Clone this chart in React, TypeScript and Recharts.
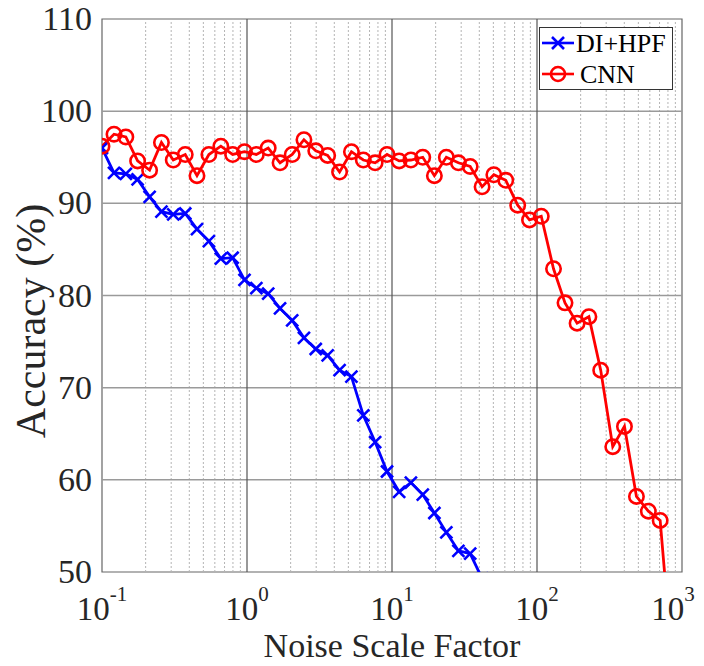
import React from 'react';
import {
  ComposedChart,
  Line,
  XAxis,
  YAxis,
  ReferenceLine,
  ReferenceArea,
  Legend,
} from 'recharts';

// Noise scale factors (log-spaced sweep)
const noiseScale = [
  0.1, 0.121, 0.146, 0.176, 0.213, 0.257, 0.31, 0.375, 0.452, 0.546,
  0.66, 0.796, 0.961, 1.16, 1.4, 1.69, 2.05, 2.47, 2.98, 3.6,
  4.35, 5.25, 6.34, 7.65, 9.24, 11.2, 13.5, 16.3, 19.6, 23.7,
  28.7, 34.6, 41.8, 50.4, 60.9, 73.6, 88.8, 107, 130, 156,
  189, 228, 275, 333, 401, 485, 586, 707, 854,
];

// Accuracy (%) of the DI+HPF detector
const diHpfAccuracy = [
  96.0, 93.3, 93.2, 92.6, 90.7, 89.1, 88.8, 88.9, 87.2, 85.9,
  84.0, 84.1, 81.7, 80.8, 80.2, 78.6, 77.3, 75.4, 74.2, 73.5,
  71.9, 71.2, 67.0, 64.1, 60.9, 58.7, 59.7, 58.4, 56.4, 54.3,
  52.3, 52.0, 49.3,
];

// Accuracy (%) of the CNN detector
const cnnAccuracy = [
  96.2, 97.5, 97.2, 94.6, 93.6, 96.6, 94.7, 95.3, 93.0, 95.3,
  96.2, 95.3, 95.6, 95.3, 96.0, 94.4, 95.3, 96.9, 95.7, 95.2,
  93.4, 95.6, 94.7, 94.4, 95.3, 94.6, 94.7, 95.0, 93.0, 95.0,
  94.4, 94.0, 91.8, 93.1, 92.5, 89.8, 88.2, 88.6, 82.9, 79.2,
  77.0, 77.7, 71.9, 63.6, 65.8, 58.2, 56.6, 55.6, 40.3,
];

const xTicks = [0.1, 1, 10, 100, 1000];
const xTickExponents = ['-1', '0', '1', '2', '3'];
const yTicks = [50, 60, 70, 80, 90, 100, 110];

const data = noiseScale.map((x, i) => ({
  x,
  diHpf: i < diHpfAccuracy.length ? diHpfAccuracy[i] : null,
  cnn: i < cnnAccuracy.length ? cnnAccuracy[i] : null,
}));

// minor log grid positions (2..9 within each decade)
const minorX: number[] = [];
[0.1, 1, 10, 100].forEach((d) => {
  for (let m = 2; m <= 9; m++) minorX.push(Number((d * m).toPrecision(3)));
});

const FONT = "'Liberation Serif', 'Times New Roman', serif";
const TEXT = '#262626';
const BLUE = '#0000ff';
const RED = '#ff0000';

const CrossDot = (props: any) => {
  const { cx, cy, value } = props;
  if (cx == null || cy == null || value == null) return <g key={props.key} />;
  const s = 6;
  return (
    <path
      key={props.key}
      d={`M${cx - s},${cy - s}L${cx + s},${cy + s}M${cx - s},${cy + s}L${cx + s},${cy - s}`}
      stroke={BLUE}
      strokeWidth={2.6}
      fill="none"
    />
  );
};

const CircleDot = (props: any) => {
  const { cx, cy, value } = props;
  if (cx == null || cy == null || value == null) return <g key={props.key} />;
  return <circle key={props.key} cx={cx} cy={cy} r={7.2} stroke={RED} strokeWidth={2.6} fill="none" />;
};

const XTick = (props: any) => {
  const { x, y, payload } = props;
  const idx = xTicks.indexOf(payload.value);
  const exp = xTickExponents[idx] ?? '';
  // keep the rightmost label inside the figure
  const shift = idx === xTicks.length - 1 ? -9 : 0;
  return (
    <text x={x + shift} y={y + 48} textAnchor="middle" fontFamily={FONT} fontSize={33} fill={TEXT}>
      <tspan>10</tspan>
      <tspan dy={-19} fontSize={21}>{exp}</tspan>
    </text>
  );
};

const YTick = (props: any) => {
  const { x, y, payload } = props;
  return (
    <text x={x} y={y} dy={11} textAnchor="end" fontFamily={FONT} fontSize={34} fill={TEXT}>
      {payload.value}
    </text>
  );
};

const LegendBox = () => (
  <svg width={134} height={64} style={{ display: 'block' }}>
    <rect x={0.5} y={0.5} width={133} height={62} fill="#fff" stroke="#333" strokeWidth={1} />
    <line x1={3} y1={16} x2={35} y2={16} stroke={BLUE} strokeWidth={2.6} />
    <path d="M13,10L25,22M13,22L25,10" stroke={BLUE} strokeWidth={2.6} fill="none" />
    <text x={37} y={25} fontFamily={FONT} fontSize={26} fill="#000">DI+HPF</text>
    <line x1={3} y1={47} x2={35} y2={47} stroke={RED} strokeWidth={2.6} />
    <circle cx={19} cy={47} r={7} stroke={RED} strokeWidth={2.6} fill="none" />
    <text x={41} y={56} fontFamily={FONT} fontSize={26} fill="#000">CNN</text>
  </svg>
);

export default function App() {
  return (
    <div style={{ margin: -8, width: 704, height: 666 }}>
      <ComposedChart
        width={704}
        height={666}
        data={data}
        margin={{ top: 19, right: 22, left: 0, bottom: 0 }}
        style={{ background: '#fff' }}
      >
        <XAxis
          dataKey="x"
          type="number"
          scale="log"
          domain={[0.1, 1000]}
          ticks={xTicks}
          allowDataOverflow
          height={94}
          tickLine={false}
          tickSize={0}
          tickMargin={0}
          axisLine={false}
          tick={<XTick />}
          label={{
            content: () => (
              <text x={392} y={657} textAnchor="middle" fontFamily={FONT} fontSize={34} fill={TEXT}>
                Noise Scale Factor
              </text>
            ),
          }}
        />
        <YAxis
          type="number"
          domain={[50, 110]}
          ticks={yTicks}
          allowDataOverflow
          width={102}
          tickLine={false}
          tickSize={0}
          tickMargin={10}
          axisLine={false}
          tick={<YTick />}
          label={{
            content: () => (
              <text
                x={0}
                y={0}
                transform="translate(45, 321) rotate(-90)"
                textAnchor="middle"
                fontFamily={FONT}
                fontSize={42}
                fill={TEXT}
              >
                Accuracy (%)
              </text>
            ),
          }}
        />
        {minorX.map((v) => (
          <ReferenceLine key={`mx${v}`} x={v} stroke="#b4b4b4" strokeDasharray="2 2" strokeWidth={1} ifOverflow="hidden" />
        ))}
        {[60, 70, 80, 90, 100].map((v) => (
          <ReferenceLine key={`hy${v}`} y={v} stroke="#9a9a9a" strokeWidth={1.5} />
        ))}
        {[1, 10, 100].map((v) => (
          <ReferenceLine key={`vx${v}`} x={v} stroke="#555" strokeWidth={1.2} />
        ))}
        <ReferenceArea x1={0.1} x2={1000} y1={50} y2={110} fill="none" stroke="#666" strokeWidth={1.2} />
        <Line
          dataKey="diHpf"
          name="DI+HPF"
          stroke={BLUE}
          strokeWidth={2.8}
          dot={<CrossDot />}
          activeDot={false}
          isAnimationActive={false}
          connectNulls={false}
        />
        <Line
          dataKey="cnn"
          name="CNN"
          stroke={RED}
          strokeWidth={2.8}
          dot={<CircleDot />}
          activeDot={false}
          isAnimationActive={false}
          connectNulls={false}
        />
        <Legend
          layout="vertical"
          align="center"
          verticalAlign="middle"
          content={<LegendBox />}
          wrapperStyle={{ left: 539, top: 27, width: 134, height: 64 }}
        />
      </ComposedChart>
    </div>
  );
}
